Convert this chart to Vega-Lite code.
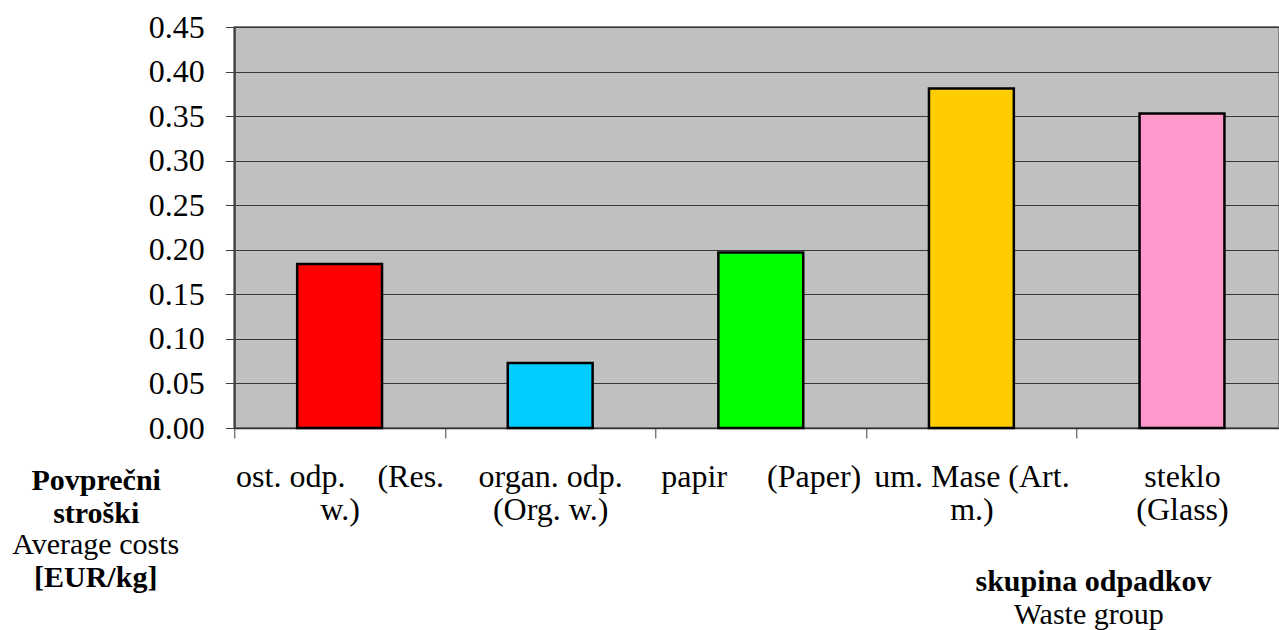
{
  "$schema": "https://vega.github.io/schema/vega-lite/v6.json",
  "autosize": "none",
  "width": 1044.7,
  "height": 401,
  "padding": {"left": 234.3, "top": 27, "right": 0, "bottom": 202},
  "background": "white",
  "config": {
    "font": "Liberation Serif",
    "view": {"fill": "#C0C0C0", "stroke": "#808080", "strokeWidth": 2},
    "axis": {"labelFont": "Liberation Serif", "titleFont": "Liberation Serif", "labelColor": "black", "titleColor": "black"},
    "title": {"font": "Liberation Serif", "subtitleFont": "Liberation Serif"}
  },
  "title": {
    "text": "Average costs",
    "subtitle": "[EUR/kg]",
    "orient": "top",
    "anchor": "start",
    "frame": "group",
    "align": "center",
    "fontSize": 30,
    "fontWeight": "normal",
    "color": "black",
    "subtitleFontSize": 30,
    "subtitleFontWeight": "bold",
    "subtitleColor": "black",
    "subtitlePadding": 3,
    "offset": 0,
    "dx": -138.6,
    "dy": 582
  },
  "data": {
    "values": [
      {"group": "ost. odp.\u00a0\u00a0\u00a0 (Res.|w.)", "cost": 0.184},
      {"group": "organ. odp.|(Org. w.)", "cost": 0.073},
      {"group": "papir\u00a0\u00a0\u00a0\u00a0 (Paper)", "cost": 0.197},
      {"group": "um. Mase (Art.|m.)", "cost": 0.381},
      {"group": "steklo|(Glass)", "cost": 0.353}
    ]
  },
  "layer": [
    {
      "mark": {"type": "bar", "width": {"band": 0.403}, "stroke": "black", "strokeWidth": 2.5},
      "encoding": {
        "x": {
          "field": "group", "type": "nominal", "sort": null,
          "scale": {"range": [0, 1053], "paddingInner": 0, "paddingOuter": 0},
          "axis": {
            "orient": "bottom",
            "labelExpr": "split(datum.label, '|')",
            "labelAngle": 0,
            "labelFontSize": 32,
            "labelLineHeight": 33.5,
            "labelBaseline": "alphabetic",
            "labelPadding": 48.4,
            "labelLimit": 400,
            "tickBand": "extent",
            "tickSize": 10,
            "tickColor": "#404040",
            "domainColor": "#303030",
            "domainWidth": 1.5,
            "grid": false,
            "title": "skupina odpadkov",
            "titleFontSize": 30,
            "titleFontWeight": "bold",
            "titleAlign": "center",
            "titleBaseline": "alphabetic",
            "titleAnchor": null,
            "titleX": 858.7,
            "titleY": 162
          }
        },
        "y": {
          "field": "cost", "type": "quantitative",
          "scale": {"domain": [0, 0.45], "nice": false, "zero": true},
          "axis": {
            "orient": "left",
            "values": [0, 0.05, 0.1, 0.15, 0.2, 0.25, 0.3, 0.35, 0.4, 0.45],
            "format": ".2f",
            "labelFontSize": 32,
            "labelPadding": 21,
            "tickSize": 9,
            "tickColor": "#404040",
            "domainColor": "#404040",
            "domainWidth": 2,
            "grid": true,
            "gridColor": "#383838",
            "gridWidth": 1.2,
            "title": ["Povprečni", "stroški"],
            "titleFontSize": 30,
            "titleFontWeight": "bold",
            "titleAngle": 0,
            "titleAlign": "center",
            "titleBaseline": "alphabetic",
            "titleLineHeight": 33,
            "titleAnchor": null,
            "titleX": -138.6,
            "titleY": 462
          }
        },
        "color": {
          "field": "group", "type": "nominal", "sort": null, "legend": null,
          "scale": {"range": ["#FF0000", "#00CCFF", "#00FF00", "#FFCC00", "#FF99CC"]}
        }
      }
    },
    {
      "mark": {"type": "bar", "opacity": 0},
      "encoding": {
        "x": {"field": "group", "type": "nominal", "sort": null},
        "y": {
          "field": "cost", "type": "quantitative",
          "axis": {
            "orient": "right",
            "labels": false, "ticks": false, "domain": false, "grid": false,
            "title": "Waste group",
            "titleFontSize": 30,
            "titleFontWeight": "normal",
            "titleAngle": 0,
            "titleAlign": "center",
            "titleBaseline": "alphabetic",
            "titleAnchor": null,
            "titleX": -190.8,
            "titleY": 596
          }
        }
      }
    }
  ],
  "resolve": {"axis": {"y": "independent"}}
}
